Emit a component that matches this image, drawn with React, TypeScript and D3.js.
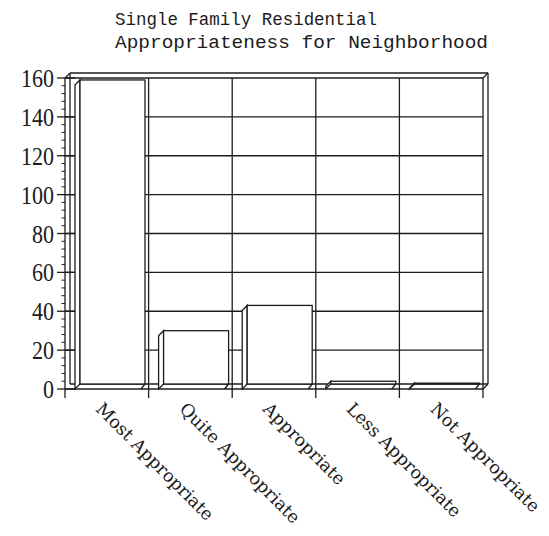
import React from "react";
import * as d3 from "d3";

const categories = ["Most Appropriate", "Quite Appropriate", "Appropriate", "Less Appropriate", "Not Appropriate"];
const values = [159, 30, 43, 4, 3];
const majorTicks = [0, 20, 40, 60, 80, 100, 120, 140, 160];
const titleLines = ["Single Family Residential", "Appropriateness for Neighborhood"];

const W = 549, H = 536;
const X0 = 65, X1 = 483, Y0 = 389, Y1 = 78;
const DX = 5, DY = -5;

export default function App() {
  const x = d3.scaleBand<string>().domain(categories).range([X0, X1]).padding(0);
  const y = d3.scaleLinear().domain([0, 160]).range([Y0, Y1]);
  const bw = x.bandwidth();
  const minorTicks = d3.range(0, 161, 4).filter((v) => v % 20 !== 0);
  const ink = "#1c1c1c";
  const sw = 1.3;
  const boundaries = [...categories.map((c) => x(c)!), X1];

  return (
    <svg width={W} height={H} style={{ position: "absolute", left: 0, top: 0, background: "#fff" }}>
      <g fill="none" stroke={ink} strokeWidth={sw}>
        {/* back wall outline */}
        <line x1={X0 + DX} y1={y(160) + DY} x2={X1 + DX} y2={y(160) + DY} />
        <line x1={X1 + DX} y1={y(160) + DY} x2={X1 + DX} y2={Y0 + DY} />
        <line x1={X0 + DX} y1={y(160) + DY} x2={X0 + DX} y2={Y0 + DY} />
        <line x1={X0} y1={y(160)} x2={X0 + DX} y2={y(160) + DY} />
        <line x1={X1} y1={y(160)} x2={X1 + DX} y2={y(160) + DY} />
        {/* floor */}
        <line x1={X0 + DX} y1={Y0 + DY} x2={X1 + DX} y2={Y0 + DY} />
        <line x1={X0} y1={Y0} x2={X1} y2={Y0} />
        <line x1={X1} y1={Y0} x2={X1 + DX} y2={Y0 + DY} />
        {/* horizontal gridlines */}
        {majorTicks.filter((v) => v > 0).map((v) => (
          <line key={"g" + v} x1={X0} y1={y(v)} x2={X1} y2={y(v)} />
        ))}
        {/* vertical separators */}
        {boundaries.map((b, i) => (
          <line key={"s" + i} x1={b} y1={y(160)} x2={b} y2={Y0 + 9} />
        ))}
        {/* axis ticks */}
        {majorTicks.map((v) => (
          <line key={"t" + v} x1={X0 - 8} y1={y(v)} x2={X0 + 10} y2={y(v)} />
        ))}
        {minorTicks.map((v) => (
          <line key={"m" + v} x1={X0 - 3.5} y1={y(v)} x2={X0} y2={y(v)} strokeWidth={1} />
        ))}
      </g>
      {/* bars */}
      <g stroke={ink} strokeWidth={sw} fill="#fff">
        {categories.map((c, i) => {
          const b = x(c)!;
          const top = y(values[i]);
          const l = b + 10, m = b + 15, r = b + 80;
          return (
            <g key={c}>
              <polygon points={`${l},${Math.min(top + 5, Y0)} ${m},${top} ${m},${Y0 + DY} ${l},${Y0}`} />
              <rect x={m} y={top} width={r - m} height={Math.max(Y0 + DY - top, 0.5)} />
              <line x1={r - 4} y1={Y0} x2={r} y2={Y0 + DY} fill="none" />
            </g>
          );
        })}
      </g>
      {/* y tick labels */}
      <g fontFamily="'Liberation Serif', serif" fontSize={25} fill={ink}>
        {majorTicks.map((v) => {
          const s = String(v);
          return (
            <text key={"l" + v} x={54} y={y(v) + 9} textAnchor="end" textLength={11 * s.length} lengthAdjust="spacingAndGlyphs">
              {s}
            </text>
          );
        })}
      </g>
      {/* x labels */}
      <g fontFamily="'DejaVu Serif', serif" fontSize={17.6} fill={ink}>
        {categories.map((c) => {
          const cx = x(c)! + bw / 2 - 12;
          const cy = 410;
          return (
            <text key={"x" + c} transform={`translate(${cx},${cy}) rotate(45)`}>
              {c}
            </text>
          );
        })}
      </g>
      {/* title */}
      <g fontFamily="'Liberation Mono', monospace" fontSize={18} fill={ink}>
        <text x={115} y={25} textLength={262} lengthAdjust="spacingAndGlyphs">{titleLines[0]}</text>
        <text x={115} y={48} textLength={373} lengthAdjust="spacingAndGlyphs">{titleLines[1]}</text>
      </g>
    </svg>
  );
}
